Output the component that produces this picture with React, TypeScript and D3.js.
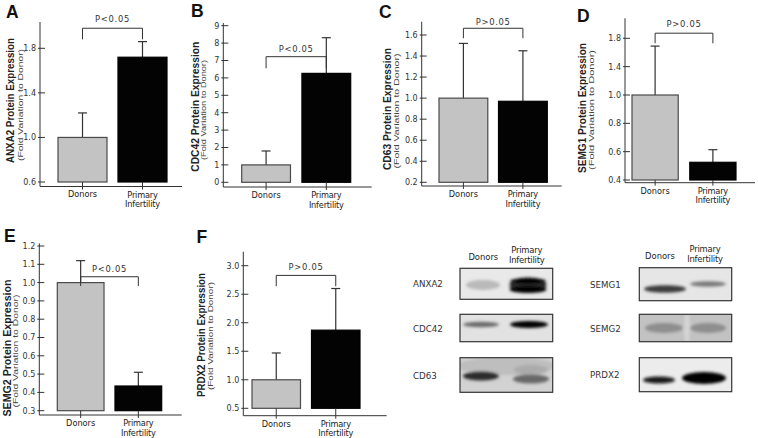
import React from "react";
import * as d3 from "d3";

// ---------- data ----------
const categories = ["Donors", "Primary Infertility"];
const proteins = ["ANXA2", "CDC42", "CD63", "SEMG1", "SEMG2", "PRDX2"];
const panelLetters = ["A", "B", "C", "D", "E", "F"];
const donorMeans = [1.0, 1.0, 1.0, 1.0, 1.0, 1.0];
const infertilityMeans = [1.72, 6.26, 0.97, 0.525, 0.435, 1.87];
const donorUpper = [1.22, 1.8, 1.52, 1.69, 1.12, 1.47];
const infertilityUpper = [1.86, 8.31, 1.45, 0.614, 0.51, 2.6];
const pLabels = ["P<0.05", "P<0.05", "P>0.05", "P>0.05", "P<0.05", "P>0.05"];
const bracketTops = [1.98, 7.22, 1.664, 1.872, 1.032, 2.83];
const bracketLegs = [1.88, 6.55, 1.569, 1.73, 0.981, 2.64];
const yTicks = [
  [0.6, 1.0, 1.4, 1.8],
  [0, 1, 2, 3, 4, 5, 6, 7, 8, 9],
  [0.2, 0.4, 0.6, 0.8, 1.0, 1.2, 1.4, 1.6],
  [0.4, 0.6, 0.8, 1.0, 1.4, 1.8],
  [0.3, 0.4, 0.5, 0.6, 0.7, 0.8, 0.9, 1.0, 1.1, 1.2],
  [0.5, 1.0, 1.5, 2.0, 2.5, 3.0],
];
const tickFormats = [".1f", "d", ".1f", ".1f", ".1f", ".1f"];
const yLabelSub = "(Fold Variation to Donor)";

const blotLeftProteins = ["ANXA2", "CDC42", "CD63"];
const blotRightProteins = ["SEMG1", "SEMG2", "PRDX2"];

// ---------- layout ----------
type Layout = {
  ax: number; top: number; base: number; xEnd: number;
  yDom: number[]; yRng: number[]; band: [number, number]; pad: number;
  letter: [number, number]; mainX: number; subX: number; mainCY: number; subCY: number;
  mainLen: number; subLen: number; pDy: number;
};
const layouts: Layout[] = [
  { ax: 40, top: 22, base: 186.5, xEnd: 182, yDom: [0.6, 1.8], yRng: [182, 48.3], band: [58, 167], pad: 0.183,
    letter: [6, 18.3], mainX: 13.6, subX: 23.4, mainCY: 100.5, subCY: 105, mainLen: 125, subLen: 112, pDy: -6.5 },
  { ax: 223.3, top: 23, base: 187, xEnd: 371.7, yDom: [0, 9], yRng: [182.3, 25.7], band: [241.7, 350.7], pad: 0.19,
    letter: [191, 16.7], mainX: 199.3, subX: 206.4, mainCY: 106.7, subCY: 110, mainLen: 130, subLen: 100, pDy: -5 },
  { ax: 421.7, top: 21.7, base: 186, xEnd: 561.7, yDom: [0.2, 1.6], yRng: [182.3, 35], band: [439, 547.3], pad: 0.18,
    letter: [379, 18.3], mainX: 391, subX: 398.7, mainCY: 109, subCY: 111, mainLen: 122, subLen: 115, pDy: -3.5 },
  { ax: 625, top: 18.3, base: 182.7, xEnd: 755, yDom: [0.4, 1.0, 1.8], yRng: [180, 95, 38.3], band: [632, 736], pad: 0.2,
    letter: [577, 21.7], mainX: 585.5, subX: 594.3, mainCY: 108, subCY: 110, mainLen: 130, subLen: 120, pDy: -6 },
  { ax: 39.3, top: 243.3, base: 415, xEnd: 181.7, yDom: [0.3, 1.2], yRng: [410.7, 246], band: [57.3, 161.7], pad: 0.19,
    letter: [4, 241.7], mainX: 11.3, subX: 18.4, mainCY: 348, subCY: 351, mainLen: 137, subLen: 113, pDy: -5 },
  { ax: 243.3, top: 251.7, base: 415.7, xEnd: 386.7, yDom: [0.5, 3.0], yRng: [408.3, 265.7], band: [252, 360], pad: 0.185,
    letter: [196.5, 243], mainX: 204.5, subX: 212.5, mainCY: 335, subCY: 336, mainLen: 124, subLen: 108, pDy: -5 },
];

const FONT = "'DejaVu Sans', Verdana, sans-serif";
const ARIAL = "'Liberation Sans', Arial, sans-serif";
const AXIS = "#333";

function Panel({ i }: { i: number }) {
  const L = layouts[i];
  const y = d3.scaleLinear().domain(L.yDom).range(L.yRng);
  const x = d3.scaleBand<string>().domain(categories).range(L.band).paddingInner(L.pad).paddingOuter(0);
  const bw = x.bandwidth();
  const fmt = d3.format(tickFormats[i]);
  const means = [donorMeans[i], infertilityMeans[i]];
  const uppers = [donorUpper[i], infertilityUpper[i]];
  const baseVal = yTicks[i][0];
  const cx = (c: string) => (x(c) as number) + bw / 2;
  const c0 = cx(categories[0]);
  const c1 = cx(categories[1]);
  return (
    <g>
      <text x={L.letter[0]} y={L.letter[1]} fontFamily={ARIAL} fontWeight="bold" fontSize={17.5} fill="#111">
        {panelLetters[i]}
      </text>
      {/* y labels */}
      <text transform={`translate(${L.mainX},${L.mainCY}) rotate(-90)`} textAnchor="middle" fontFamily={ARIAL}
        fontWeight="bold" fontSize={11.2} fill="#222" textLength={L.mainLen} lengthAdjust="spacingAndGlyphs">
        {proteins[i] + " Protein Expression"}
      </text>
      <text transform={`translate(${L.subX},${L.subCY}) rotate(-90)`} textAnchor="middle" fontFamily={ARIAL}
        fontSize={7.8} fill="#444" textLength={L.subLen} lengthAdjust="spacingAndGlyphs">
        {yLabelSub}
      </text>
      {/* axes */}
      <line x1={L.ax} x2={L.ax} y1={L.top} y2={L.base} stroke={AXIS} strokeWidth={1} />
      <line x1={L.ax} x2={L.xEnd} y1={L.base} y2={L.base} stroke={AXIS} strokeWidth={1} />
      {yTicks[i].map((t) => (
        <g key={t}>
          <line x1={L.ax - 2} x2={L.ax + 5} y1={y(t)} y2={y(t)} stroke={AXIS} strokeWidth={1} />
          <text x={L.ax - 4} y={y(t) + 2.9} textAnchor="end" fontFamily={FONT} fontSize={8} fill="#333">
            {fmt(t)}
          </text>
        </g>
      ))}
      {/* bars */}
      {categories.map((c, k) => (
        <g key={c}>
          <line x1={cx(c)} x2={cx(c)} y1={y(means[k])} y2={y(uppers[k])} stroke="#333" strokeWidth={1.2} />
          <line x1={cx(c) - 4.5} x2={cx(c) + 4.5} y1={y(uppers[k])} y2={y(uppers[k])} stroke="#333" strokeWidth={1.2} />
          <rect x={x(c)} y={y(means[k])} width={bw} height={y(baseVal) - y(means[k])}
            fill={k === 0 ? "#c3c3c3" : "#030303"} stroke={k === 0 ? "#4a4a4a" : "#000"} strokeWidth={1.2} />
          <line x1={cx(c)} x2={cx(c)} y1={y(baseVal)} y2={L.base + 3} stroke={AXIS} strokeWidth={1} />
        </g>
      ))}
      {/* category labels */}
      <text x={c0} y={L.base + 10.8} textAnchor="middle" fontFamily={FONT} fontSize={8.2} fill="#222">
        {categories[0]}
      </text>
      {categories[1].split(" ").map((w, k) => (
        <text key={w} x={c1} y={L.base + 11.3 + k * 9.2} textAnchor="middle" fontFamily={FONT} fontSize={8.2}
          fill="#222" letterSpacing={-0.2}>
          {w}
        </text>
      ))}
      {/* significance bracket */}
      <path d={`M${c0},${y(bracketLegs[i])}V${y(bracketTops[i])}H${c1}V${y(bracketLegs[i])}`} fill="none"
        stroke={AXIS} strokeWidth={1} />
      <text x={(c0 + c1) / 2} y={y(bracketTops[i]) + L.pDy} textAnchor="middle" fontFamily={FONT} fontSize={8.4}
        letterSpacing={0.7} fill="#333">
        {pLabels[i]}
      </text>
    </g>
  );
}

// ---------- western blots ----------
type Box = { x: number; y: number; w: number; h: number; bg: string };
const leftBoxes: Box[] = [
  { x: 460, y: 268.3, w: 92.7, h: 31, bg: "#e9e9e9" },
  { x: 460, y: 314.3, w: 92.7, h: 27.4, bg: "#e2e2e2" },
  { x: 460, y: 357.7, w: 92.7, h: 34.6, bg: "#d2d2d2" },
];
const rightBoxes: Box[] = [
  { x: 639.3, y: 267.7, w: 92.4, h: 33, bg: "#e6e6e6" },
  { x: 639.3, y: 314.3, w: 92.4, h: 27.4, bg: "#c2c2c2" },
  { x: 639.3, y: 357.7, w: 92.4, h: 34, bg: "#ececec" },
];
type Band = { cx: number; cy: number; rx: number; ry: number; c: string; o: number };
const leftBands: Band[][] = [
  [
    { cx: 483, cy: 285, rx: 17, ry: 5, c: "#a5a5a5", o: 0.7 },
    { cx: 528, cy: 285, rx: 18.5, ry: 7.5, c: "#222", o: 0.95 },
    { cx: 528, cy: 281, rx: 18, ry: 3, c: "#000", o: 0.9 },
    { cx: 528, cy: 289.5, rx: 18.5, ry: 3.5, c: "#000", o: 1 },
  ],
  [
    { cx: 481, cy: 324.5, rx: 18, ry: 2.8, c: "#555", o: 0.85 },
    { cx: 529, cy: 324.5, rx: 19, ry: 3.5, c: "#000", o: 1 },
  ],
  [
    { cx: 506, cy: 366, rx: 50, ry: 9, c: "#aaa", o: 0.5 },
    { cx: 481, cy: 376, rx: 18, ry: 4.5, c: "#222", o: 0.95 },
    { cx: 531, cy: 379, rx: 18, ry: 4.5, c: "#555", o: 0.85 },
    { cx: 531, cy: 370, rx: 17, ry: 5, c: "#999", o: 0.5 },
  ],
];
const rightBands: Band[][] = [
  [
    { cx: 665, cy: 289, rx: 21, ry: 3.8, c: "#333", o: 0.95 },
    { cx: 708, cy: 284, rx: 18, ry: 2.8, c: "#666", o: 0.85 },
  ],
  [
    { cx: 664, cy: 328, rx: 19, ry: 5, c: "#888", o: 0.9 },
    { cx: 708, cy: 328, rx: 18, ry: 5, c: "#888", o: 0.9 },
    { cx: 687, cy: 328, rx: 3, ry: 16, c: "#ddd", o: 0.7 },
  ],
  [
    { cx: 659, cy: 380, rx: 16, ry: 3.6, c: "#111", o: 0.95 },
    { cx: 704, cy: 378, rx: 22, ry: 6, c: "#000", o: 1 },
  ],
];

function Blot({ boxes, bands, names, labelX, hdr }: { boxes: Box[]; bands: Band[][]; names: string[]; labelX: number; hdr: number[] }) {
  const id = "b" + Math.round(labelX);
  return (
    <g>
      <text x={hdr[0]} y={hdr[2]} textAnchor="middle" fontFamily={FONT} fontSize={8.4} fill="#222">
        {categories[0]}
      </text>
      {categories[1].split(" ").map((w, k) => (
        <text key={w} x={hdr[1]} y={hdr[3] + k * 9.8} textAnchor="middle" fontFamily={FONT} fontSize={8.4}
          fill="#222" letterSpacing={-0.2}>
          {w}
        </text>
      ))}
      {boxes.map((b, r) => (
        <g key={r}>
          <clipPath id={`${id}c${r}`}>
            <rect x={b.x} y={b.y} width={b.w} height={b.h} />
          </clipPath>
          <rect x={b.x} y={b.y} width={b.w} height={b.h} fill={b.bg} />
          <g clipPath={`url(#${id}c${r})`} filter="url(#blur)">
            {bands[r].map((e, k) => (
              <ellipse key={k} cx={e.cx} cy={e.cy} rx={e.rx} ry={e.ry} fill={e.c} opacity={e.o} />
            ))}
          </g>
          <rect x={b.x} y={b.y} width={b.w} height={b.h} fill="none" stroke="#333" strokeWidth={1.2} />
          <text x={labelX} y={b.y + b.h / 2 + 3.5} fontFamily={FONT} fontSize={8.7} fill="#333">
            {names[r]}
          </text>
        </g>
      ))}
    </g>
  );
}

export default function App() {
  return (
    <svg width={758} height={438} style={{ position: "absolute", left: 0, top: 0, background: "#fff" }}>
      <defs>
        <filter id="blur" x="-20%" y="-50%" width="140%" height="200%">
          <feGaussianBlur stdDeviation={1.6} />
        </filter>
      </defs>
      <rect width={758} height={438} fill="#fff" />
      {layouts.map((_, i) => (
        <Panel key={i} i={i} />
      ))}
      <Blot boxes={leftBoxes} bands={leftBands} names={blotLeftProteins} labelX={413} hdr={[483.3, 526.7, 260, 253]} />
      <Blot boxes={rightBoxes} bands={rightBands} names={blotRightProteins} labelX={590} hdr={[660, 705, 259, 252]} />
    </svg>
  );
}
